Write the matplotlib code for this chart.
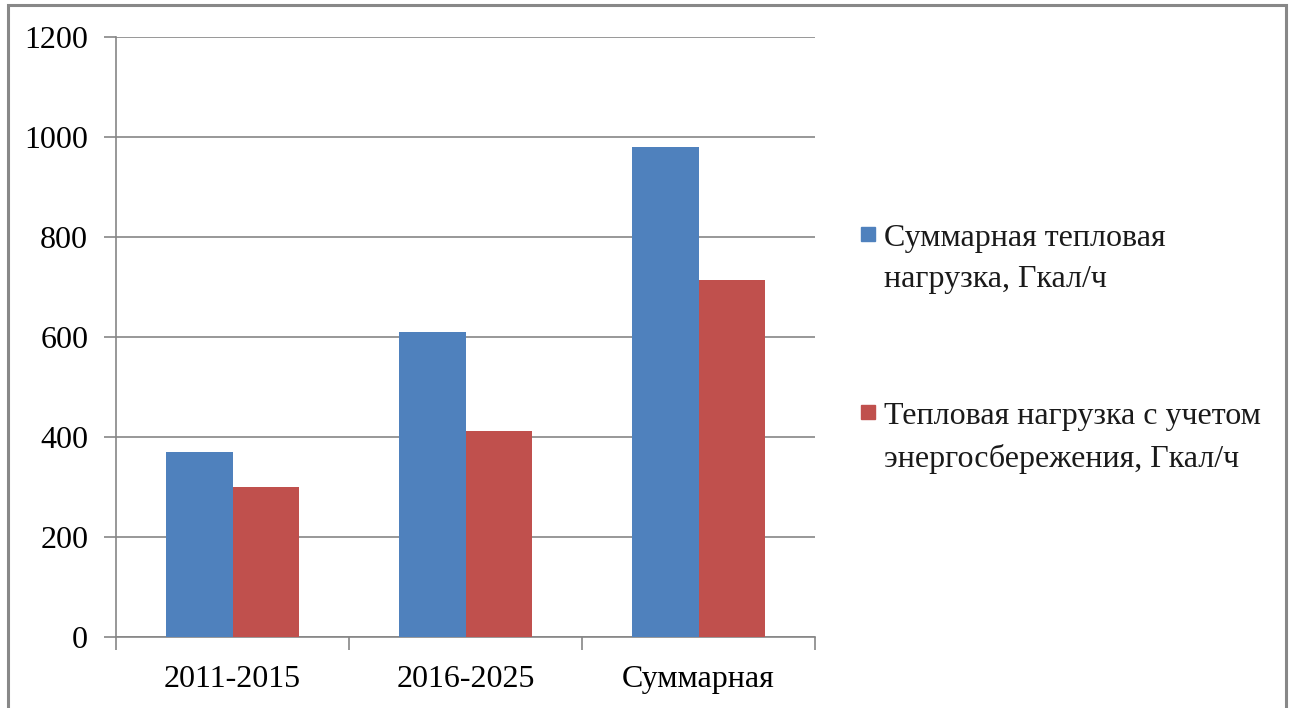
import matplotlib
matplotlib.use("Agg")
import matplotlib.pyplot as plt
from matplotlib.patches import Rectangle
import numpy as np

categories = ["2011-2015", "2016-2025", "Суммарная"]
series_names = ["Суммарная тепловая\nнагрузка, Гкал/ч",
                "Тепловая нагрузка с учетом\nэнергосбережения, Гкал/ч"]
total_load = [370, 610, 980]
saving_load = [300, 413, 714]
colors = ["#4F81BD", "#C0504D"]
yticks = [0, 200, 400, 600, 800, 1000, 1200]

plt.rcParams['font.family'] = ['Liberation Serif', 'DejaVu Serif']
FS = 23

W, H = 1293, 708
fig = plt.figure(figsize=(W / 100, H / 100), dpi=100)
ax = fig.add_axes([116 / W, 1 - 637 / H, (815 - 116) / W, 600 / H])

x = np.arange(len(categories))
bw = 0.285
ax.bar(x - bw / 2, total_load, bw, color=colors[0], zorder=3)
ax.bar(x + bw / 2, saving_load, bw, color=colors[1], zorder=3)

ax.set_xlim(-0.5, len(categories) - 0.5)
ax.set_ylim(0, 1200)
ax.set_yticks(yticks)
ax.set_yticklabels([str(v) for v in yticks], fontsize=FS)
ax.set_xticks(x)
ax.set_xticklabels(categories, fontsize=FS)
ax.set_xticks(np.arange(len(categories) + 1) - 0.5, minor=True)
ax.tick_params(axis='x', which='major', length=0, pad=20)
ax.tick_params(axis='x', which='minor', length=9, width=1.2, color='#868686', direction='out')
ax.tick_params(axis='y', length=9, width=1.2, color='#868686', pad=11)
ax.grid(axis='y', color='#868686', linewidth=1.2, zorder=0)
ax.set_axisbelow(True)
for s in ['top', 'right']:
    ax.spines[s].set_visible(False)
for s in ['left', 'bottom']:
    ax.spines[s].set_color('#868686')
    ax.spines[s].set_linewidth(1.2)

# legend (manual)
entries_y = [227, 405]
for name, col, ytop in zip(series_names, colors, entries_y):
    fig.patches.append(Rectangle((861 / W, 1 - (ytop + 14) / H), 14 / W, 14 / H,
                                 transform=fig.transFigure, color=col))
    fig.text(884 / W, 1 - (ytop - 3) / H, name, fontsize=FS, va='top', ha='left',
             linespacing=1.55, color='#1a1a1a')

# outer border
fig.patches.append(Rectangle((8 / W, -0.05), (1286 - 8) / W, 1.05 - 5 / H,
                             transform=fig.transFigure, fill=False,
                             edgecolor='#888888', linewidth=2.2, clip_on=False))

fig.savefig("out.png", dpi=100)
